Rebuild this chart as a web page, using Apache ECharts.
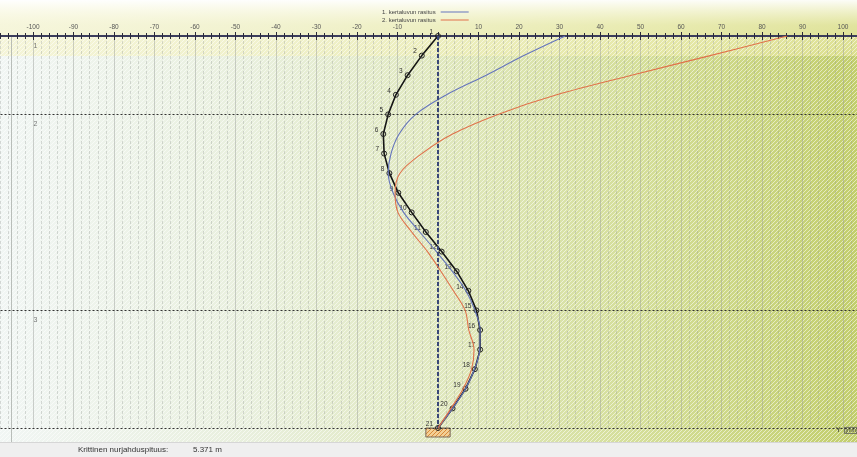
<!DOCTYPE html>
<html>
<head>
<meta charset="utf-8">
<script src="https://cdn.jsdelivr.net/npm/echarts@6/dist/echarts.min.js"></script>
<style>
html,body{margin:0;padding:0;background:#fff;}
#chart{width:857px;height:457px;}
</style>
</head>
<body>
<div id="chart"></div>
<script>
// Node numbers along the column (1 = top, 21 = base)
const nodes = [1,2,3,4,5,6,7,8,9,10,11,12,13,14,15,16,17,18,19,20,21];
// Buckling mode shape, lateral displacement Y [mm] at each node
const bucklingMode = [0,-4.0,-7.5,-10.4,-12.3,-13.5,-13.3,-12.0,-9.8,-6.5,-3.0,0.9,4.6,7.5,9.5,10.4,10.4,9.1,6.8,3.6,0];
// 1st order displacement
const firstOrder = [31.4,21.2,11.9,2.1,-5.5,-9.6,-11.6,-12.3,-11.1,-8.5,-4.5,-0.4,3.5,6.9,9.1,10.4,10.3,9.0,6.8,3.6,0];
// 2nd order displacement
const secondOrder = [86.2,67.2,47.8,29.3,14.8,3.6,-4.0,-9.4,-10.6,-9.9,-6.5,-2.6,0.7,3.8,6.7,7.6,8.9,8.3,6.2,3.2,0];
// Soil layer boundaries (node index) and their numbers
const layerTops = [1,5,15];
const layerNames = ['1','2','3'];
const layerBottom = 21;
// Tick labels shown along the Y axis
const xTickLabels = [-100,-90,-80,-70,-60,-50,-40,-30,-20,-10,10,20,30,40,50,60,70,80,90,100];
const seriesNames = ['1. kertaluvun rasitus','2. kertaluvun rasitus'];
const criticalLength = '5.371 m';

const FONT = 'Liberation Sans';

function hatch(size, stroke, bg) {
  const c = document.createElement('canvas');
  c.width = c.height = size;
  const g = c.getContext('2d');
  if (bg) { g.fillStyle = bg; g.fillRect(0, 0, size, size); }
  g.strokeStyle = stroke;
  g.lineWidth = 1;
  g.beginPath();
  g.moveTo(0, size); g.lineTo(size, 0);
  g.moveTo(-1, 1); g.lineTo(1, -1);
  g.moveTo(size - 1, size + 1); g.lineTo(size + 1, size - 1);
  g.stroke();
  return c;
}
const bgHatch = hatch(4, 'rgba(255,255,255,0.55)');
const supportHatch = hatch(4, '#d98a3a', '#f3cf95');

const chart = echarts.init(document.getElementById('chart'), null, {renderer: 'canvas'});

const pairs = (vals) => vals.map((v, i) => [v, nodes[i]]);

const option = {
  animation: false,
  backgroundColor: '#ffffff',
  textStyle: {fontFamily: FONT},
  grid: {left: -7.5, right: -26.5, top: 36, bottom: 29, containLabel: false, outerBoundsMode: 'none'},
  legend: {
    data: seriesNames,
    orient: 'vertical',
    align: 'right',
    left: 377, top: 4,
    icon: 'rect',
    itemWidth: 28, itemHeight: 1,
    itemGap: 2,
    textStyle: {fontSize: 6, color: '#444', fontFamily: FONT, padding: [0, 0, 0, 0]}
  },
  xAxis: [{
    type: 'value', position: 'top',
    min: -110, max: 110, interval: 10,
    axisLine: {show: true, lineStyle: {color: '#3b3d5c', width: 2}},
    axisTick: {show: true, length: 4, lineStyle: {color: '#2a2a3a', width: 1}},
    minorTick: {show: true, splitNumber: 5, length: 3, lineStyle: {color: '#2a2a3a', width: 1}},
    axisLabel: {
      show: true, margin: 5, fontSize: 6.5, color: '#555', fontFamily: FONT,
      formatter: (v) => xTickLabels.indexOf(v) >= 0 ? String(v) : ''
    },
    splitLine: {show: true, lineStyle: {color: 'rgba(150,155,150,0.45)', width: 1}},
    minorSplitLine: {show: true, lineStyle: {color: 'rgba(150,155,150,0.35)', width: 1, type: [3, 2]}}
  }, {
    type: 'value', position: 'top',
    min: -110, max: 110, interval: 10,
    axisLine: {show: false},
    axisTick: {show: true, inside: true, length: 4, lineStyle: {color: '#2a2a3a', width: 1}},
    minorTick: {show: true, splitNumber: 5, length: 3, lineStyle: {color: '#2a2a3a', width: 1}},
    axisLabel: {show: false},
    splitLine: {show: false}
  }],
  yAxis: {
    type: 'value', inverse: true, min: 1, max: 21,
    show: false, splitLine: {show: false}
  },
  graphic: [
    // plot background: horizontal colour gradient
    {type: 'rect', z: -10, silent: true, shape: {x: 0, y: 0, width: 857, height: 442},
      style: {fill: new echarts.graphic.LinearGradient(0, 0, 1, 0, [
        {offset: 0, color: '#f1f6f4'},
        {offset: 0.3, color: '#e8efdc'},
        {offset: 0.5, color: '#e0e8bf'},
        {offset: 0.75, color: '#d4de98'},
        {offset: 1, color: '#c2ce6c'}
      ])}},
    // pale band at the top
    {type: 'rect', z: -9, silent: true, shape: {x: 0, y: 0, width: 857, height: 56},
      style: {fill: new echarts.graphic.LinearGradient(0, 0, 0, 1, [
        {offset: 0, color: 'rgba(255,255,255,0.95)'},
        {offset: 0.45, color: 'rgba(250,246,200,0.55)'},
        {offset: 1, color: 'rgba(248,242,180,0.45)'}
      ])}},
    // hatching
    {type: 'rect', z: -8, silent: true, shape: {x: 0, y: 37, width: 857, height: 405},
      style: {fill: {image: bgHatch, repeat: 'repeat'}}},
    {type: 'line', z: -7, silent: true, shape: {x1: 11.5, y1: 37, x2: 11.5, y2: 442},
      style: {stroke: 'rgba(170,175,170,0.8)', lineWidth: 1}},
    // status bar
    {type: 'rect', z: -6, silent: true, shape: {x: 0, y: 442, width: 857, height: 15},
      style: {fill: '#efefef'}},
    {type: 'line', z: -5, silent: true, shape: {x1: 0, y1: 442.5, x2: 857, y2: 442.5},
      style: {stroke: '#d6d6d6', lineWidth: 1}},
    {type: 'text', silent: true, left: 78, top: 446,
      style: {text: 'Krittinen nurjahduspituus:', fontSize: 8, fill: '#333', fontFamily: FONT}},
    {type: 'text', silent: true, left: 193, top: 446,
      style: {text: criticalLength, fontSize: 8, fill: '#333', fontFamily: FONT}},
    // unit label
    {type: 'text', silent: true, left: 836, top: 427,
      style: {text: 'Y', fontSize: 7, fill: '#333', fontFamily: FONT}},
    {type: 'text', silent: true, left: 844, top: 427,
      style: {text: '[mm]', fontSize: 5.5, fill: '#333', fontFamily: FONT,
        borderColor: '#555', borderWidth: 0.8, padding: [0, 1]}}
  ],
  series: [
    {
      // column axis and layer boundaries
      type: 'line', name: 'column', data: [], silent: true,
      markLine: {
        silent: true, symbol: 'none', label: {show: false}, animation: false,
        data: [
          {xAxis: 0, lineStyle: {color: '#3a4878', width: 2, type: [4, 2]}},
          ...layerTops.slice(1).map(n => ({yAxis: n, lineStyle: {color: '#333', width: 1, type: [2, 2]}})),
          {yAxis: layerBottom, lineStyle: {color: '#333', width: 1, type: [2, 2]}}
        ]
      }
    },
    {
      // layer numbers
      type: 'scatter', name: 'layers', silent: true, symbolSize: 1,
      itemStyle: {color: 'rgba(0,0,0,0)'},
      data: layerTops.map((n, i) => ({value: [-100, n], name: layerNames[i]})),
      label: {show: true, formatter: (p) => p.name, position: [1, 7],
        fontSize: 7, color: '#555', fontFamily: FONT}
    },
    {
      // base support
      type: 'custom', name: 'support', silent: true,
      data: [[0, layerBottom]],
      renderItem: (params, api) => {
        const l = api.coord([-3.0, api.value(1)]);
        const r = api.coord([3.0, api.value(1)]);
        return {type: 'rect', shape: {x: l[0], y: l[1], width: r[0] - l[0], height: 9},
          style: {fill: {image: supportHatch, repeat: 'repeat'}, stroke: '#7a6a5a', lineWidth: 1}};
      },
      clip: false, z: 1
    },
    {
      name: 'Nurjahdusmuoto', type: 'line', z: 3,
      data: pairs(bucklingMode),
      lineStyle: {color: '#151515', width: 1.6},
      symbol: 'circle', symbolSize: 5, showSymbol: true,
      itemStyle: {color: 'rgba(0,0,0,0)', borderColor: '#222', borderWidth: 1},
      label: {show: true, position: 'left', distance: 2, offset: [0, -4],
        formatter: (p) => String(nodes[p.dataIndex]), fontSize: 6.5, color: '#333', fontFamily: FONT}
    },
    {
      name: seriesNames[0], type: 'line', z: 4,
      data: pairs(firstOrder), smooth: 0.35, showSymbol: false, symbol: 'none',
      lineStyle: {color: '#6474bc', width: 1.1},
      itemStyle: {color: '#6474bc'}
    },
    {
      name: seriesNames[1], type: 'line', z: 5,
      data: pairs(secondOrder), smooth: 0.35, showSymbol: false, symbol: 'none',
      lineStyle: {color: '#e0714a', width: 1.1},
      itemStyle: {color: '#e0714a'}
    }
  ]
};
chart.setOption(option);
</script>
</body>
</html>
